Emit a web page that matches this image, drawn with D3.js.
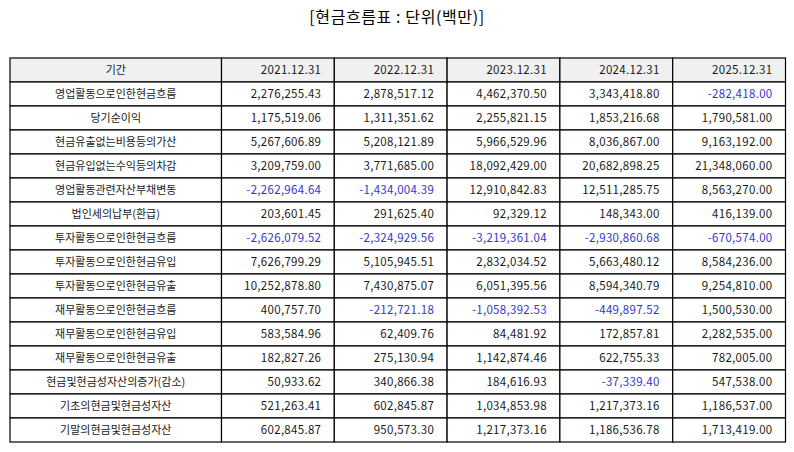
<!DOCTYPE html>
<html>
<head>
<meta charset="utf-8">
<script src="https://cdn.jsdelivr.net/npm/d3@7"></script>
<style>
  body { margin: 0; background: #fff; }
  text { font-family: "Noto Sans CJK KR", "Noto Sans", sans-serif; }
</style>
</head>
<body>
<div id="chart"></div>
<script>
// Chart size
const w = 794;
const h = 452;

// Table data
const title = '[현금흐름표 : 단위(백만)]';
const headerLabel = '기간';
const periods = ['2021.12.31', '2022.12.31', '2023.12.31', '2024.12.31', '2025.12.31'];
const rowLabels = [
  '영업활동으로인한현금흐름',
  '당기순이익',
  '현금유출없는비용등의가산',
  '현금유입없는수익등의차감',
  '영업활동관련자산부채변동',
  '법인세의납부(환급)',
  '투자활동으로인한현금흐름',
  '투자활동으로인한현금유입',
  '투자활동으로인한현금유출',
  '재무활동으로인한현금흐름',
  '재무활동으로인한현금유입',
  '재무활동으로인한현금유출',
  '현금및현금성자산의증가(감소)',
  '기초의현금및현금성자산',
  '기말의현금및현금성자산'
];
const v2021 = [2276255.43, 1175519.06, 5267606.89, 3209759.00, -2262964.64, 203601.45, -2626079.52,
  7626799.29, 10252878.80, 400757.70, 583584.96, 182827.26, 50933.62, 521263.41, 602845.87];
const v2022 = [2878517.12, 1311351.62, 5208121.89, 3771685.00, -1434004.39, 291625.40, -2324929.56,
  5105945.51, 7430875.07, -212721.18, 62409.76, 275130.94, 340866.38, 602845.87, 950573.30];
const v2023 = [4462370.50, 2255821.15, 5966529.96, 18092429.00, 12910842.83, 92329.12, -3219361.04,
  2832034.52, 6051395.56, -1058392.53, 84481.92, 1142874.46, 184616.93, 1034853.98, 1217373.16];
const v2024 = [3343418.80, 1853216.68, 8036867.00, 20682898.25, 12511285.75, 148343.00, -2930860.68,
  5663480.12, 8594340.79, -449897.52, 172857.81, 622755.33, -37339.40, 1217373.16, 1186536.78];
const v2025 = [-282418.00, 1790581.00, 9163192.00, 21348060.00, 8563270.00, 416139.00, -670574.00,
  8584236.00, 9254810.00, 1500530.00, 2282535.00, 782005.00, 547538.00, 1186537.00, 1713419.00];
const columnValues = [v2021, v2022, v2023, v2024, v2025];

// Relative column widths (label column is wider)
const colWeights = [1.875, 1, 1, 1, 1, 1];

const fmt = d3.formatLocale({
  decimal: '.', thousands: ',', grouping: [3], currency: ['', ''], minus: '-'
}).format(',.2f');

const svg = d3.select('#chart')
  .append('svg')
  .attr('width', w)
  .attr('height', h);

// Scales
const colEdges = d3.cumsum([0].concat(colWeights));
const xScale = d3.scaleLinear()
  .domain([0, d3.sum(colWeights)])
  .range([10, 785.5]);

const rowKeys = ['header'].concat(rowLabels);
const yScale = d3.scaleBand()
  .domain(rowKeys)
  .range([58, 442]);

// Build cells
const cells = [];
rowKeys.forEach(function (r, ri) {
  for (let ci = 0; ci < colWeights.length; ci++) {
    let text, color = '#1a1a1a', align = 'middle';
    if (ri === 0) {
      text = ci === 0 ? headerLabel : periods[ci - 1];
      align = ci === 0 ? 'middle' : 'end';
    } else if (ci === 0) {
      text = r;
    } else {
      const v = columnValues[ci - 1][ri - 1];
      text = fmt(v);
      align = 'end';
      if (v < 0) color = '#3535cc';
    }
    cells.push({ row: r, ri: ri, ci: ci, text: text, color: color, align: align });
  }
});

const cell = svg.append('g')
  .selectAll('g')
  .data(cells)
  .join('g');

cell.append('rect')
  .attr('x', (d) => xScale(colEdges[d.ci]))
  .attr('y', (d) => yScale(d.row))
  .attr('width', (d) => xScale(colEdges[d.ci + 1]) - xScale(colEdges[d.ci]))
  .attr('height', yScale.bandwidth())
  .attr('fill', (d) => d.ri === 0 ? '#f0f0f0' : '#ffffff')
  .attr('stroke', '#000')
  .attr('stroke-width', 1.2);

cell.append('text')
  .attr('x', function (d) {
    const x0 = xScale(colEdges[d.ci]);
    const x1 = xScale(colEdges[d.ci + 1]);
    return d.align === 'end' ? x1 - 13 : (x0 + x1) / 2;
  })
  .attr('y', (d) => yScale(d.row) + yScale.bandwidth() / 2)
  .attr('dy', '0.36em')
  .attr('text-anchor', (d) => d.align)
  .attr('fill', (d) => d.color)
  .style('font-size', (d) => d.align === 'end' ? '11.5px' : '11px')
  .style('letter-spacing', (d) => d.align === 'end' ? '0.3px' : null)
  .text((d) => d.text);

// Title
svg.append('text')
  .attr('x', w / 2)
  .attr('y', 23)
  .attr('text-anchor', 'middle')
  .attr('fill', '#000')
  .style('font-size', '16px')
  .style('letter-spacing', '0.6px')
  .text(title);
</script>
</body>
</html>
